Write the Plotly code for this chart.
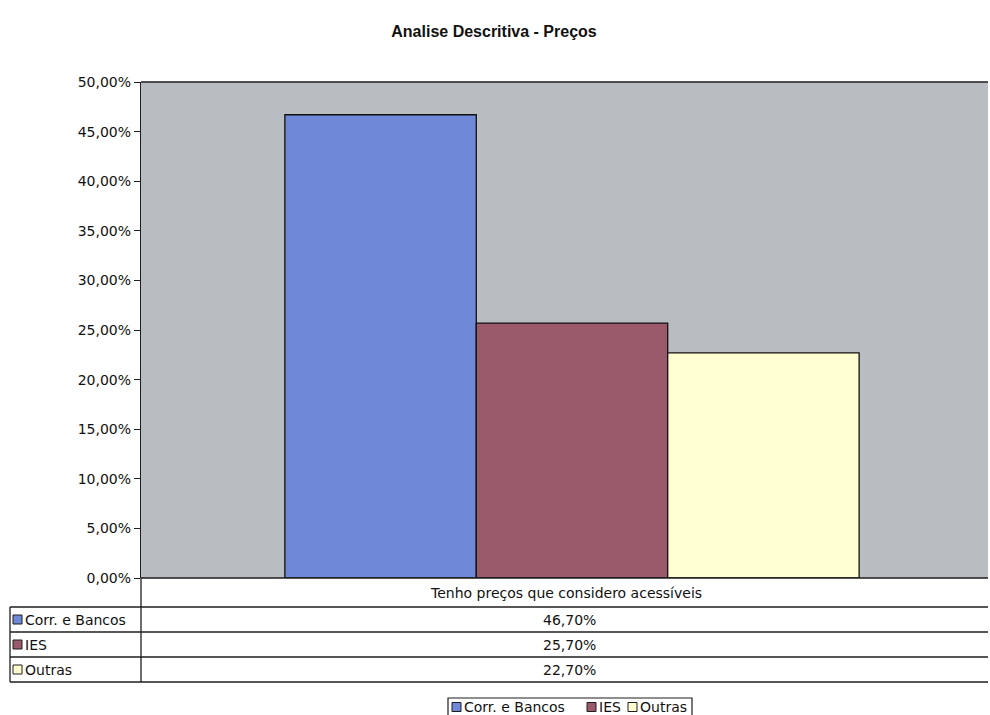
import plotly.graph_objects as go

# Chart data
category = "Tenho preços que considero acessíveis"
series_names = ["Corr. e Bancos", "IES", "Outras"]
series_values = [0.467, 0.257, 0.227]
value_labels = ["46,70%", "25,70%", "22,70%"]
series_colors = ["#7088d8", "#9a5a6c", "#ffffd2"]
tick_values = [0.0, 0.05, 0.10, 0.15, 0.20, 0.25, 0.30, 0.35, 0.40, 0.45, 0.50]
tick_labels = ["0,00%", "5,00%", "10,00%", "15,00%", "20,00%", "25,00%",
               "30,00%", "35,00%", "40,00%", "45,00%", "50,00%"]

W, H = 990, 715
L, R, T, B = 141, 2, 82, 137
PW, PH = W - L - R, H - T - B
FONT = "DejaVu Sans, Arial, sans-serif"
TITLE_FONT = "Liberation Sans, Arial, sans-serif"
TXT = dict(family=FONT, size=14, color="#111111")
INK = "#1e1e1e"


def px_x(p):
    return (p - L) / PW


def px_y(p):
    return (H - B - p) / PH


def label(text, x, y, anchor="center"):
    return dict(text=text, xref="paper", yref="paper", x=px_x(x), y=px_y(y),
                xanchor=anchor, yanchor="middle", showarrow=False, font=TXT)


fig = go.Figure()
for name, val, col in zip(series_names, series_values, series_colors):
    fig.add_trace(go.Bar(
        x=[category], y=[val], name=name, showlegend=False,
        marker=dict(color=col, line=dict(color="#111111", width=1.3)),
    ))

shapes = []
annotations = []
line_style = dict(color=INK, width=1.3)

# frame of the plot area
shapes.append(dict(type="line", xref="paper", yref="paper", x0=0, x1=1, y0=1, y1=1,
                   line=line_style))
shapes.append(dict(type="line", xref="paper", yref="paper", x0=0, x1=1, y0=0, y1=0,
                   line=line_style))

# data table under the plot
for yy in [607, 632, 657, 682]:
    shapes.append(dict(type="line", xref="paper", yref="paper",
                       x0=px_x(10), x1=1.0, y0=px_y(yy), y1=px_y(yy), line=line_style))
shapes.append(dict(type="line", xref="paper", yref="paper",
                   x0=0, x1=0, y0=0, y1=px_y(682), line=line_style))
shapes.append(dict(type="line", xref="paper", yref="paper",
                   x0=px_x(10), x1=px_x(10), y0=px_y(607), y1=px_y(682), line=line_style))

annotations.append(label(category, 566, 593))
row_centers = [619.5, 644.5, 669.5]
for name, lab, col, yc in zip(series_names, value_labels, series_colors, row_centers):
    annotations.append(label(lab, 569, yc))
    annotations.append(label(name, 23, yc, "left"))
    shapes.append(dict(type="rect", xref="paper", yref="paper",
                       x0=px_x(13), x1=px_x(22), y0=px_y(yc + 4.5), y1=px_y(yc - 4.5),
                       fillcolor=col, line=dict(color=INK, width=1)))

# legend box at the bottom
leg_y = 707
shapes.append(dict(type="rect", xref="paper", yref="paper",
                   x0=px_x(448), x1=px_x(692), y0=px_y(718), y1=px_y(698),
                   fillcolor="rgba(0,0,0,0)", line=dict(color=INK, width=1.2)))
leg_sq = [452, 587, 628]
for name, col, sx in zip(series_names, series_colors, leg_sq):
    shapes.append(dict(type="rect", xref="paper", yref="paper",
                       x0=px_x(sx), x1=px_x(sx + 9), y0=px_y(leg_y + 4.5), y1=px_y(leg_y - 4.5),
                       fillcolor=col, line=dict(color=INK, width=1)))
    annotations.append(label(name, sx + 9.5, leg_y, "left"))

# centre of the bar group sits slightly right of the plot centre
shift = (572 - L) / PW - 0.5

fig.update_layout(
    width=W, height=H,
    margin=dict(l=L, r=R, t=T, b=B, autoexpand=False),
    paper_bgcolor="white",
    plot_bgcolor="#b9bdc2",
    barmode="group",
    bargap=0.322,
    bargroupgap=0,
    showlegend=False,
    title=dict(text="<b>Analise Descritiva - Preços</b>", x=494 / W,
               xanchor="center", y=1 - 31 / H, yanchor="middle",
               font=dict(family=TITLE_FONT, size=16, color="#111111")),
    xaxis=dict(showticklabels=False, showgrid=False, zeroline=False,
               showline=False, ticks="", range=[-0.5 - shift, 0.5 - shift]),
    yaxis=dict(range=[0, 0.5], tickvals=tick_values, ticktext=tick_labels,
               showgrid=False, zeroline=False, showline=True, linecolor=INK,
               linewidth=1.3, ticks="outside", ticklen=6, tickcolor=INK,
               tickfont=TXT),
    shapes=shapes,
    annotations=annotations,
    font=dict(family=FONT),
)

fig.write_html("out.html")
